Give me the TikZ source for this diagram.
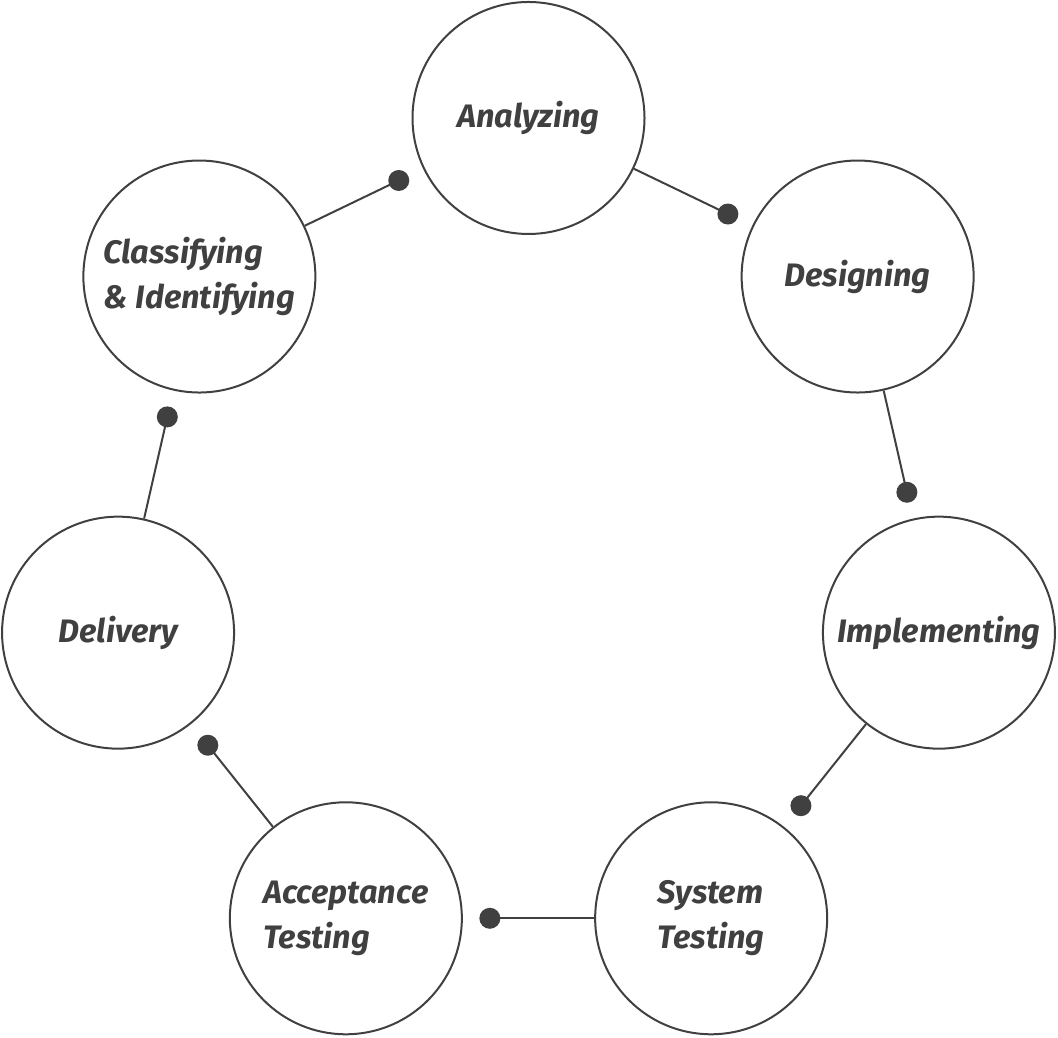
\documentclass[tikz,border=0pt]{standalone}
\usepackage{fontspec}
\setmainfont{Fira Sans}
\usetikzlibrary{calc}
\definecolor{ink}{HTML}{404040}
\begin{document}
\begin{tikzpicture}[x=1pt,y=1pt,
  stage/.style={circle,draw=ink,line width=2pt,minimum size=232pt,inner sep=0pt,
    text=ink,font=\fontsize{32.5}{45}\selectfont\bfseries\itshape,align=left},
  dotnode/.style={circle,fill=ink,inner sep=0pt,minimum size=21pt},
  link/.style={draw=ink,line width=2pt}]
\useasboundingbox (0,0) rectangle (1058,1038);
\coordinate (O) at (528.5,499);
\node[stage] (s0) at ($(O)+(90:421)$) {Analyzing};
\node[stage] (s1) at ($(O)+(90-51.4286:421)$) {Designing};
\node[stage] (s2) at ($(O)+(90-102.857:421)$) {Implementing};
\node[stage] (s3) at ($(O)+(90-154.286:421)$) {System\\Testing};
\node[stage] (s4) at ($(O)+(90-205.714:421)$) {Acceptance\\Testing};
\node[stage] (s5) at ($(O)+(90-257.143:421)$) {Delivery};
\node[stage] (s6) at ($(O)+(90-308.571:421)$) {Classifying\\\& Identifying};
\foreach \a/\b in {s0/s1,s1/s2,s2/s3,s3/s4,s4/s5,s5/s6,s6/s0}{
  \node[dotnode] (d\a\b) at ($(\b.center)!144pt!(\a.center)$) {};
  \draw[link] (\a) -- (d\a\b.center);
}
\end{tikzpicture}
\end{document}
